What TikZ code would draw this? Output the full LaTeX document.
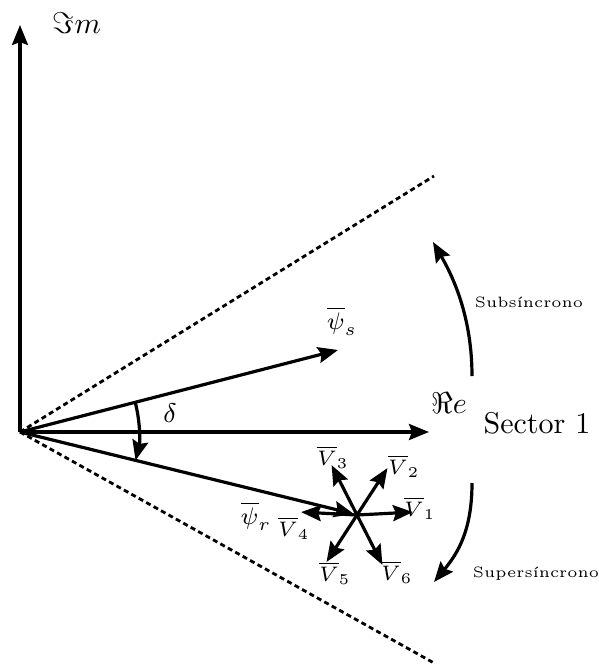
\documentclass[tikz,border=0pt]{standalone}
\usetikzlibrary{arrows.meta}
\begin{document}
\begin{tikzpicture}[x=1pt,y=-1pt,
  tipst/.style={-{Stealth[length=20pt,width=16pt,inset=3pt]}},
  vec/.style={line width=3.2pt,tipst},
  dashline/.style={line width=2.8pt,dash pattern=on 5pt off 3.5pt},
  lbl/.style={inner sep=0pt,scale=3},
]
\useasboundingbox (0,0) rectangle (598,665);
% coordinates
\coordinate (O) at (20,432);
\coordinate (ImTip) at (20,25);
\coordinate (ReTip) at (429,432);
\coordinate (DU) at (434,176);
\coordinate (DL) at (434,663);
\coordinate (PsTip) at (338,350);
\coordinate (PrTip) at (354,514);
\coordinate (C) at (357,515);
% axes
\draw[vec] (O) -- (ImTip);
\draw[vec] (O) -- (ReTip);
% dashed sector limits
\draw[dashline] (O) -- (DU);
\draw[dashline] (O) -- (DL);
% flux vectors
\draw[vec] (O) -- (PsTip);
\draw[vec] (O) -- (PrTip);
% voltage vectors
\foreach \a/\n in {-3/1,-57/2,-117/3,-177/4,-237/5,-297/6}{
  \coordinate (T\n) at ([shift={(\a:56)}]C);
  \draw[vec] (C) -- (T\n);
}
% delta arc
\coordinate (D0) at ([shift={(-14.5:119)}]O);
\draw[vec] (D0) arc[start angle=-14.5,end angle=13.8,radius=119];
% sub / super synchronous arrows
\coordinate (S0) at (472,376);
\coordinate (S1) at (433,242);
\draw[vec] (S0) .. controls (472,320) and (455,280) .. (S1);
\coordinate (P0) at (472,483);
\coordinate (P1) at (434,582);
\draw[vec] (P0) .. controls (472,530) and (458,553) .. (P1);
% labels
\node[lbl] (lIm) at (77,23) {$\Im m$};
\node[lbl] (lRe) at (449,403) {$\Re e$};
\node[lbl] (lSec) at (537,423) {Sector 1};
\node[lbl] (lSub) at (529,302) {\tiny Subsíncrono};
\node[lbl] (lSup) at (536,574) {\tiny Supersíncrono};
\node[lbl] (lPs) at (342,321) {\footnotesize $\overline{\psi}_s$};
\node[lbl] (lPr) at (256,516) {\footnotesize $\overline{\psi}_r$};
\node[lbl] (lD) at (170,413) {\small $\delta$};
\node[lbl] (lV1) at (420,508) {\scriptsize $\overline{V}_1$};
\node[lbl] (lV2) at (404,466) {\scriptsize $\overline{V}_2$};
\node[lbl] (lV3) at (333,457) {\scriptsize $\overline{V}_3$};
\node[lbl] (lV4) at (294,528) {\scriptsize $\overline{V}_4$};
\node[lbl] (lV5) at (335,573) {\scriptsize $\overline{V}_5$};
\node[lbl] (lV6) at (397,572) {\scriptsize $\overline{V}_6$};
\end{tikzpicture}
\end{document}
